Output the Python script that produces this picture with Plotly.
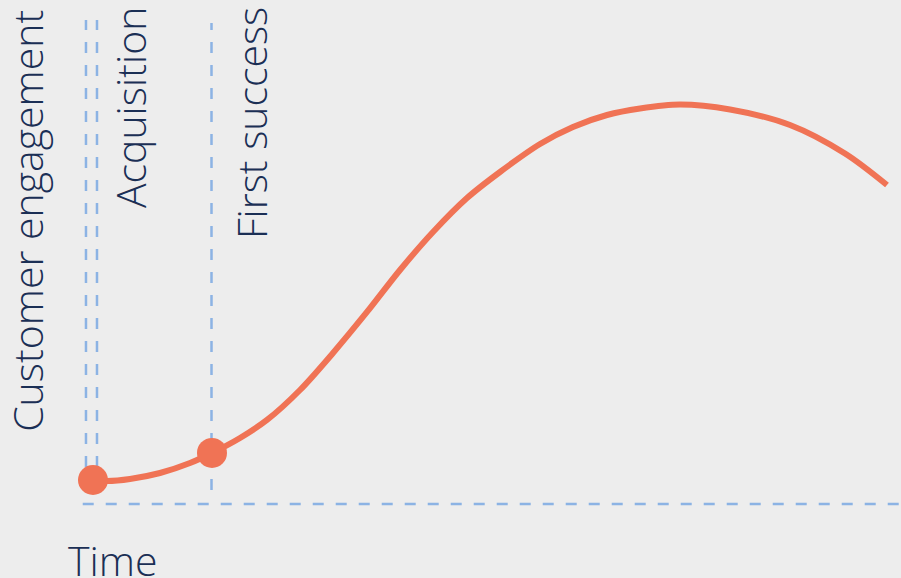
import plotly.graph_objects as go

# Customer engagement curve (time units 0-100, engagement units 0-100)
time_vals = [0.86, 2.58, 5.40, 9.08, 12.76, 15.46, 18.90, 22.21, 26.26, 30.31, 34.48,
             38.53, 42.58, 46.75, 50.80, 55.71, 59.75, 63.93, 67.98, 72.88, 79.02,
             86.38, 93.13, 98.28]
engagement_vals = [4.96, 4.75, 5.17, 6.40, 8.47, 10.54, 13.64, 17.36, 23.55, 31.20, 39.67,
                   48.35, 56.20, 63.22, 68.60, 74.38, 77.89, 80.37, 81.71, 82.54, 81.51,
                   78.31, 72.42, 65.91]

# Milestones
milestone_names = ["Acquisition", "First success"]
milestone_time = [0.86, 15.46]
milestone_engagement = [4.96, 10.54]
milestone_line_x = [1.35, 15.4]

axis_title_x = "Time"
axis_title_y = "Customer engagement"

BG = "#ededed"
ORANGE = "#f07355"
BLUE = "#8cb3e4"
NAVY = "#1b2f55"
FONT = "Open Sans"
FS = 41

fig = go.Figure()

fig.add_trace(go.Scatter(
    x=time_vals, y=engagement_vals, mode="lines",
    line=dict(color=ORANGE, width=6, shape="spline", smoothing=0.9),
    hoverinfo="skip", showlegend=False, cliponaxis=False,
))
fig.add_trace(go.Scatter(
    x=milestone_time, y=milestone_engagement, mode="markers",
    marker=dict(color=ORANGE, size=30, line=dict(width=0)),
    hoverinfo="skip", showlegend=False, cliponaxis=False,
))

dash = "11px,12px"
shapes = []
# y axis dashed line
shapes.append(dict(type="line", xref="x", yref="y", x0=0, x1=0, y0=2.9, y1=100,
                   line=dict(color=BLUE, width=2.5, dash=dash), layer="below"))
# x axis dashed line
shapes.append(dict(type="line", xref="x", yref="y", x0=-0.4, x1=100, y0=0, y1=0,
                   line=dict(color=BLUE, width=2.5, dash=dash), layer="below"))
# milestone lines
tops = [100, 99.4]
for lx, top in zip(milestone_line_x, tops):
    shapes.append(dict(type="line", xref="x", yref="y", x0=lx, x1=lx, y0=2.9, y1=top,
                       line=dict(color=BLUE, width=2.5, dash=dash), layer="below"))

font = dict(family=FONT, size=FS, color=NAVY, weight=300)
annotations = [
    dict(text=axis_title_y, x=-7.24, y=58.5, xref="x", yref="y", textangle=-90,
         showarrow=False, xanchor="center", yanchor="middle", font=font),
    dict(text=milestone_names[0], x=5.4, y=82.0, xref="x", yref="y", textangle=-90,
         showarrow=False, xanchor="center", yanchor="middle", font=font),
    dict(text=milestone_names[1], x=20.25, y=78.7, xref="x", yref="y", textangle=-90,
         showarrow=False, xanchor="center", yanchor="middle", font=font),
    dict(text=axis_title_x, x=3.31, y=-11.6, xref="x", yref="y",
         showarrow=False, xanchor="center", yanchor="middle", font=font),
]

fig.update_layout(
    width=901, height=578,
    margin=dict(l=0, r=0, t=0, b=0),
    paper_bgcolor=BG, plot_bgcolor=BG,
    xaxis=dict(range=[-10.55, 100], visible=False, fixedrange=True),
    yaxis=dict(range=[-15.29, 104.13], visible=False, fixedrange=True),
    shapes=shapes, annotations=annotations,
)

fig.write_html("out.html", config={"displayModeBar": False})
